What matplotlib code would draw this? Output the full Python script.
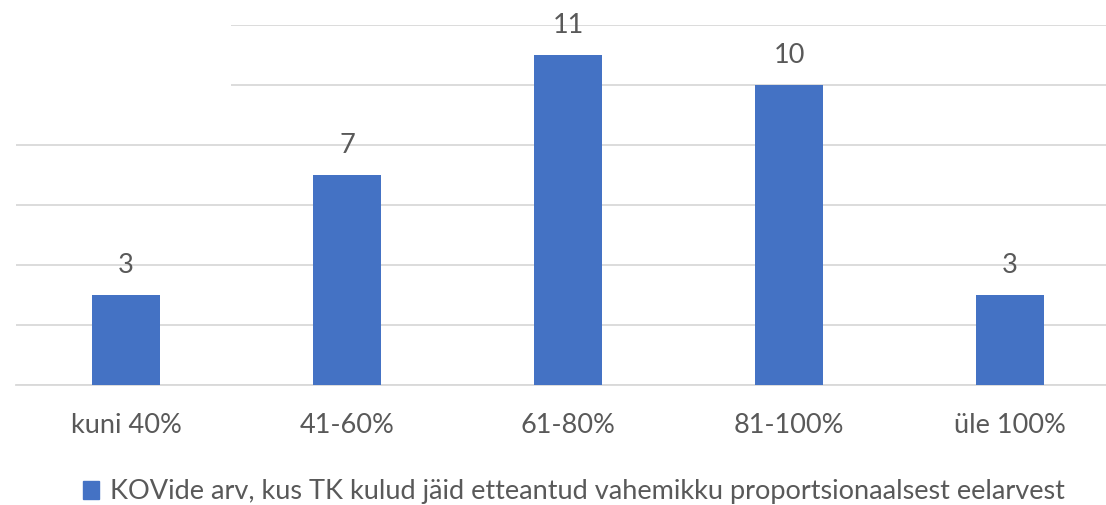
import matplotlib
matplotlib.use("Agg")
import matplotlib.pyplot as plt
from matplotlib.patches import Rectangle, Patch

categories = ["kuni 40%", "41-60%", "61-80%", "81-100%", "üle 100%"]
values = [3, 7, 11, 10, 3]
series_name = "KOVide arv, kus TK kulud jäid etteantud vahemikku proportsionaalsest eelarvest"

BAR = "#4472C4"
GRID = "#D9D9D9"
TXT = "#595959"
FS = 19.5
plt.rcParams['font.family'] = ['Lato', 'DejaVu Sans']

W, H = 1106, 505
fig = plt.figure(figsize=(W/100, H/100), dpi=100)
# axes: x from 15.5 px to 1120.5 px, y: 0 at 385px, 12 at 25px
ax = fig.add_axes([15.5/W, (H-385)/H, 1105/W, 360/H])
x = list(range(len(categories)))
ax.bar(x, values, width=0.31, color=BAR, zorder=3)
ax.set_xlim(-0.5, 4.5)
ax.set_ylim(0, 12)
ax.set_yticks(range(0, 13, 2))
ax.yaxis.grid(True, color=GRID, linewidth=1.3, zorder=0)
ax.set_yticklabels([])
ax.tick_params(axis='y', length=0)
ax.tick_params(axis='x', length=0, pad=20, labelsize=FS, labelcolor=TXT)
ax.set_xticks(x)
ax.set_xticklabels(categories)
for s in ax.spines.values():
    s.set_visible(False)
ax.axhline(0, color=GRID, linewidth=1.3, zorder=2, clip_on=False)
for xi, v in zip(x, values):
    ax.annotate(str(v), (xi, v), xytext=(0, 12), textcoords='offset points',
                ha='center', va='bottom', fontsize=FS, color=TXT)

# white area covering the upper-left part of the plot (as in reference)
fig.patches.append(Rectangle((0, (H-115)/H), 231/W, 115/H, transform=fig.transFigure,
                             facecolor='white', edgecolor='none', zorder=10))

leg = fig.legend(handles=[Patch(color=BAR, label=series_name)], loc='center',
                 bbox_to_anchor=(574/W, (H-492)/H), frameon=False, fontsize=FS,
                 handlelength=0.6, handleheight=0.6, handletextpad=0.4, labelcolor=TXT)
fig.savefig("out.png", dpi=100, facecolor='white')
